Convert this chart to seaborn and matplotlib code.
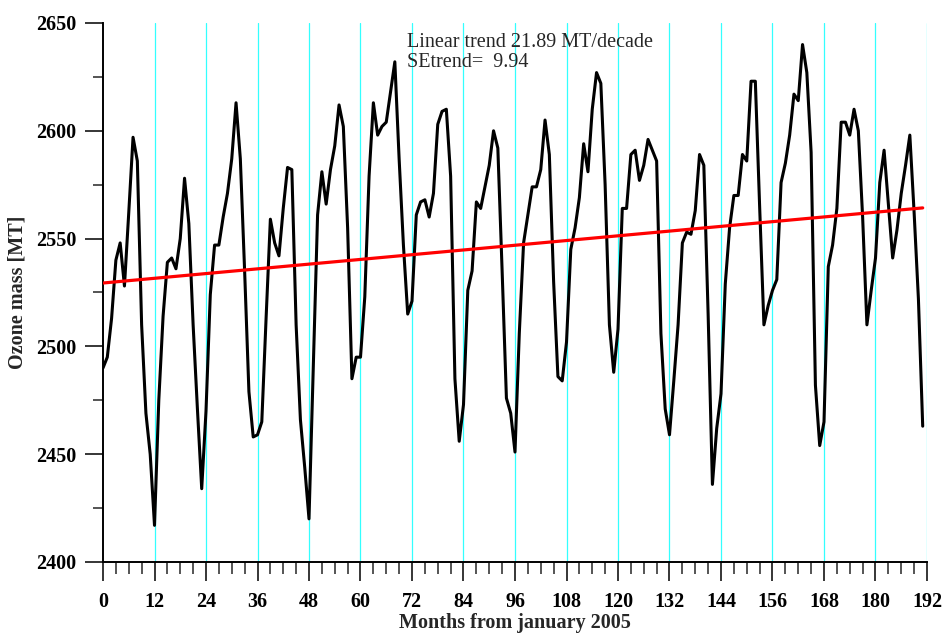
import numpy as np
import pandas as pd
import matplotlib
matplotlib.use("Agg")
import matplotlib.pyplot as plt
import seaborn as sns
from matplotlib.ticker import MultipleLocator

# ---- data ----
ozone_mass = [
    2490, 2495, 2513, 2540, 2548, 2528, 2562, 2597, 2586, 2510, 2469, 2450,
    2417, 2475, 2514, 2539, 2541, 2536, 2550, 2578, 2557, 2510, 2471, 2434,
    2470, 2524, 2547, 2547, 2560, 2571, 2587, 2613, 2587, 2535, 2479, 2458,
    2459, 2465, 2513, 2559, 2548, 2542, 2564, 2583, 2582, 2510, 2466, 2444,
    2420, 2490, 2561, 2581, 2566, 2582, 2593, 2612, 2602, 2555, 2485, 2495,
    2495, 2523, 2579, 2613, 2598, 2602, 2604, 2618, 2632, 2587, 2547, 2515,
    2521, 2561, 2567, 2568, 2560, 2571, 2603, 2609, 2610, 2579, 2485, 2456,
    2473, 2526, 2535, 2567, 2564, 2574, 2584, 2600, 2592, 2535, 2476, 2469,
    2451, 2506, 2548, 2561, 2574, 2574, 2582, 2605, 2589, 2530, 2486, 2484,
    2502, 2545, 2555, 2569, 2594, 2581, 2610, 2627, 2622, 2575, 2510, 2488,
    2508, 2564, 2564, 2589, 2591, 2577, 2584, 2596, 2591, 2586, 2506, 2471,
    2459, 2484, 2510, 2548, 2553, 2552, 2563, 2589, 2584, 2515, 2436, 2462,
    2478, 2529, 2555, 2570, 2570, 2589, 2586, 2623, 2623, 2565, 2510, 2519,
    2526, 2531, 2576, 2585, 2598, 2617, 2614, 2640, 2627, 2590, 2482, 2454,
    2465, 2537, 2547, 2564, 2604, 2604, 2598, 2610, 2600, 2560, 2510, 2526,
    2541, 2576, 2591, 2566, 2541, 2554, 2571, 2584, 2598, 2562, 2522, 2463,
]
months = list(range(len(ozone_mass)))
trend_start = 2529.4            # trend value at month 0
trend_per_decade = 21.89        # MT / decade
trend_months = [0, 191]
grid_months = list(range(12, 193, 12))
x_ticks = list(range(0, 193, 12))
y_ticks = list(range(2400, 2651, 50))
annot_line1 = "Linear trend 21.89 MT/decade"
annot_line2 = "SEtrend=  9.94"

df = pd.DataFrame({"month": months, "ozone": ozone_mass})
trend_df = pd.DataFrame({
    "month": trend_months,
    "ozone": [trend_start + trend_per_decade / 120.0 * m for m in trend_months],
})

sns.set_style("ticks")
plt.rcParams["font.family"] = ["Liberation Serif", "DejaVu Serif"]

fig = plt.figure(figsize=(9.44, 6.33), dpi=100)
ax = fig.add_axes([103 / 944, 71 / 633, 824 / 944, 539 / 633])

for gm in grid_months:
    ax.axvline(gm, color="#33ffff", lw=0.9, zorder=1)

sns.lineplot(data=df, x="month", y="ozone", ax=ax, color="black", lw=2.2,
             zorder=3, legend=False)
sns.lineplot(data=trend_df, x="month", y="ozone", ax=ax, color="#ff0000",
             lw=2.3, zorder=4, legend=False)

ax.set_xlim(0, 192)
ax.set_ylim(2400, 2650)
ax.set_xticks(x_ticks)
ax.set_yticks(y_ticks)
ax.xaxis.set_minor_locator(MultipleLocator(3))
ax.yaxis.set_minor_locator(MultipleLocator(25))

for s in ["top", "right"]:
    ax.spines[s].set_visible(False)
for s in ["left", "bottom"]:
    ax.spines[s].set_linewidth(1.4)
    ax.spines[s].set_color("black")

ax.tick_params(axis="x", which="major", direction="out", length=13.5, width=1.1,
               pad=8, labelsize=14.5, colors="black")
ax.tick_params(axis="x", which="minor", direction="out", length=8.5, width=1.1)
ax.tick_params(axis="y", which="major", direction="out", length=13, width=1.1,
               pad=6, labelsize=14.5, colors="black")
ax.tick_params(axis="y", which="minor", direction="out", length=7, width=1.1)
for lab in ax.get_xticklabels() + ax.get_yticklabels():
    lab.set_fontweight("bold")

ax.set_xlabel("Months from january 2005", fontsize=14.5, fontweight="bold",
              labelpad=1)
ax.set_ylabel("Ozone mass [MT]", fontsize=14.5, fontweight="bold", labelpad=6)

ax.text(0.369, 0.9647, annot_line1, transform=ax.transAxes, fontsize=14.5,
        ha="left", va="center")
ax.text(0.369, 0.9276, annot_line2, transform=ax.transAxes, fontsize=14.5,
        ha="left", va="center")

fig.savefig("out.png", dpi=100)
